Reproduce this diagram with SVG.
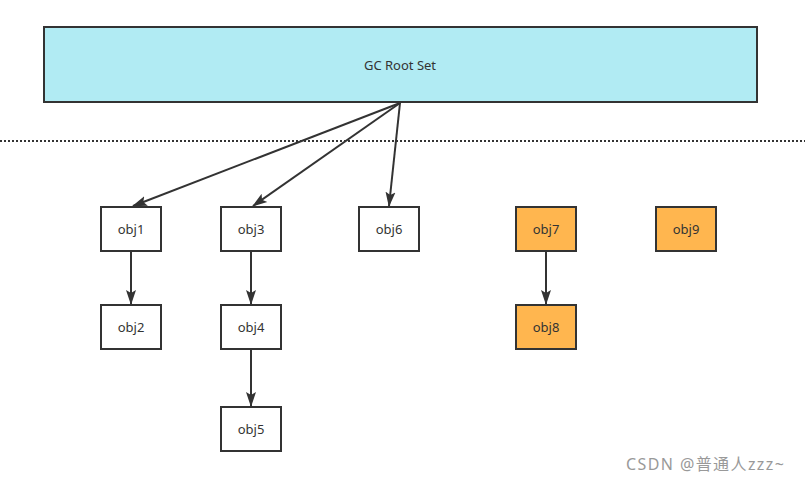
<svg xmlns="http://www.w3.org/2000/svg" width="805" height="482" viewBox="0 0 805 482">
<style>
.box{stroke:#333;stroke-width:2}
.w{fill:#fff}
.o{fill:#ffb64f}
.t{font-family:"Noto Sans","Liberation Sans",sans-serif;font-size:13px;fill:#333;text-anchor:middle;dominant-baseline:central}
.c{stroke:#333;stroke-width:2;fill:none;marker-end:url(#ah)}
</style>
<defs>
<marker id="ah" markerUnits="userSpaceOnUse" markerWidth="16" markerHeight="12" refX="14" refY="6" orient="auto" viewBox="0 0 16 12">
<path d="M0,1 L15,6 L0,11 L3,6 Z" fill="#333"/>
</marker>
</defs>
<rect width="805" height="482" fill="#fff"/>
<g id="root">
<rect class="box" x="44" y="27" width="713" height="75" fill="#b1ebf3"/>
<text class="t" x="400" y="65">GC Root Set</text>
</g>
<line x1="0" y1="141" x2="805" y2="141" stroke="#333" stroke-width="2" stroke-dasharray="2,2"/>
<g id="connectors">
<line class="c" x1="400" y1="103" x2="133" y2="206"/>
<line class="c" x1="400" y1="103" x2="253" y2="206"/>
<line class="c" x1="400" y1="103" x2="389" y2="206"/>
<line class="c" x1="131" y1="251" x2="131" y2="304"/>
<line class="c" x1="251" y1="251" x2="251" y2="304"/>
<line class="c" x1="251" y1="349" x2="251" y2="406"/>
<line class="c" x1="546" y1="251" x2="546" y2="304"/>
</g>
<g id="obj1"><rect class="box w" x="101" y="207" width="60" height="44"/><text class="t" x="131" y="229">obj1</text></g>
<g id="obj2"><rect class="box w" x="101" y="305" width="60" height="44"/><text class="t" x="131" y="327">obj2</text></g>
<g id="obj3"><rect class="box w" x="221" y="207" width="60" height="44"/><text class="t" x="251" y="229">obj3</text></g>
<g id="obj4"><rect class="box w" x="221" y="305" width="60" height="44"/><text class="t" x="251" y="327">obj4</text></g>
<g id="obj5"><rect class="box w" x="221" y="407" width="60" height="44"/><text class="t" x="251" y="429">obj5</text></g>
<g id="obj6"><rect class="box w" x="359" y="207" width="60" height="44"/><text class="t" x="389" y="229">obj6</text></g>
<g id="obj7"><rect class="box o" x="516" y="207" width="60" height="44"/><text class="t" x="546" y="229">obj7</text></g>
<g id="obj8"><rect class="box o" x="516" y="305" width="60" height="44"/><text class="t" x="546" y="327">obj8</text></g>
<g id="obj9"><rect class="box o" x="656" y="207" width="60" height="44"/><text class="t" x="686" y="229">obj9</text></g>
<text x="626" y="470" font-family="'Noto Sans','Noto Sans CJK SC',sans-serif" font-size="16" letter-spacing="1.4" fill="#999">CSDN @普通人zzz~</text>
</svg>
